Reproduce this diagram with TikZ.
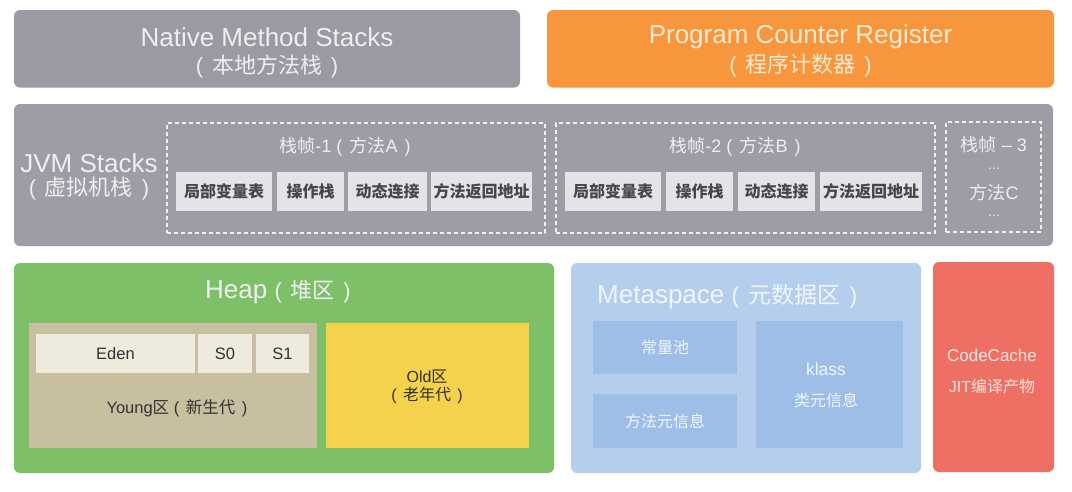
\documentclass[tikz,border=0pt]{standalone}
\usepackage{fontspec}
\setmainfont{Liberation Sans}
\newfontfamily\cjk{Noto Sans CJK SC}
\newcommand\zh[1]{{\cjk #1}}
\newcommand\LP{(\hspace{0.4em}}
\newcommand\RP{\hspace{0.4em})}
\definecolor{nativegray}{RGB}{155,154,162}
\definecolor{jvmgray}{RGB}{158,157,165}
\definecolor{pcorange}{RGB}{247,150,60}
\definecolor{cellgray}{RGB}{228,228,231}
\definecolor{celltext}{RGB}{70,70,75}
\definecolor{lighttext}{RGB}{238,238,242}
\definecolor{pctext}{RGB}{253,234,210}
\definecolor{dashwhite}{RGB}{240,240,244}
\definecolor{heapgreen}{RGB}{126,192,104}
\definecolor{youngtan}{RGB}{200,190,160}
\definecolor{edencell}{RGB}{238,234,222}
\definecolor{oldyellow}{RGB}{245,210,75}
\definecolor{metablue}{RGB}{182,206,238}
\definecolor{metainner}{RGB}{158,190,232}
\definecolor{metatext}{RGB}{240,245,252}
\definecolor{codered}{RGB}{238,112,100}
\definecolor{codetext}{RGB}{252,228,224}
\definecolor{darktext}{RGB}{50,50,50}
\tikzset{
  region/.style={rounded corners=6pt, inner sep=0pt, draw=none},
  plainbox/.style={inner sep=0pt, draw=none},
  cell/.style={plainbox, fill=cellgray, minimum height=39pt, text=celltext, font=\cjk\fontsize{16}{16}\selectfont\bfseries},
  framebox/.style={draw=dashwhite, line width=1.2pt, dash pattern=on 4pt off 3pt, inner sep=0pt},
  bigtitle/.style={inner sep=0pt, font=\fontsize{26}{26}\selectfont},
  bigsub/.style={inner sep=0pt, font=\fontsize{22}{22}\selectfont},
  label/.style={inner sep=0pt, font=\fontsize{18}{18}\selectfont},
  dots/.style={inner sep=0pt, text=lighttext, font=\fontsize{14}{14}\selectfont, text height=2pt, text depth=0pt},
}
\begin{document}
\begin{tikzpicture}[x=1pt,y=-1pt]
\useasboundingbox[fill=white] (0,0) rectangle (1072,491);
% Native method stacks
\node[region, fill=nativegray, minimum width=506pt, minimum height=77.5pt] (native) at (267,48.75) {};
\node[bigtitle, text=lighttext] (nativet) at (267,37) {Native Method Stacks};
\node[bigsub, text=lighttext] (natives) at (267,66) {\LP\zh{本地方法栈}\RP};
% Program counter
\node[region, fill=pcorange, minimum width=507pt, minimum height=77.5pt] (pc) at (800.5,48.75) {};
\node[bigtitle, text=pctext] (pct) at (800.5,37) {Program Counter Register};
\node[bigsub, text=pctext] (pcs) at (800.5,65) {\LP\zh{程序计数器}\RP};
% JVM stacks
\node[region, fill=jvmgray, minimum width=1039pt, minimum height=142pt] (jvm) at (533.5,175) {};
\node[bigtitle, text=lighttext] (jvmt) at (89,163) {JVM Stacks};
\node[bigsub, text=lighttext] (jvms) at (89,189) {\LP\zh{虚拟机栈}\RP};
% frame 1
\node[framebox, minimum width=378pt, minimum height=110pt] (f1) at (356,178) {};
\node[label, text=lighttext] (f1t) at (345,147) {\zh{栈帧}-1 \LP\zh{方法}A\RP};
\node[cell, minimum width=96pt] (f1a) at (224,191.5) {局部变量表};
\node[cell, minimum width=67pt] (f1b) at (310.5,191.5) {操作栈};
\node[cell, minimum width=79pt] (f1c) at (387.5,191.5) {动态连接};
\node[cell, minimum width=101pt] (f1d) at (481.5,191.5) {方法返回地址};
% frame 2
\node[framebox, minimum width=379pt, minimum height=110pt] (f2) at (745.5,178) {};
\node[label, text=lighttext] (f2t) at (735,147) {\zh{栈帧}-2 \LP\zh{方法}B\RP};
\node[cell, minimum width=96pt] (f2a) at (613,191.5) {局部变量表};
\node[cell, minimum width=67pt] (f2b) at (699.5,191.5) {操作栈};
\node[cell, minimum width=77pt] (f2c) at (776.5,191.5) {动态连接};
\node[cell, minimum width=102pt] (f2d) at (871,191.5) {方法返回地址};
% frame 3
\node[framebox, minimum width=95pt, minimum height=110pt] (f3) at (993.5,177) {};
\node[label, text=lighttext] (f3t) at (994,145) {\zh{栈帧} -- 3};
\node[dots] (f3d1) at (994,168) {...};
\node[label, text=lighttext] (f3m) at (994,193) {\zh{方法}C};
\node[dots] (f3d2) at (994,215) {...};
% Heap
\node[region, fill=heapgreen, minimum width=540pt, minimum height=210pt] (heap) at (284,368) {};
\node[bigtitle, text=lighttext] (heapt) at (278,292) {Heap {\fontsize{22}{22}\selectfont\LP\zh{堆区}\RP}};
\node[plainbox, fill=youngtan, minimum width=288pt, minimum height=125pt] (young) at (173,385.5) {};
\node[plainbox, fill=edencell, minimum width=159pt, minimum height=39pt, text=darktext, font=\fontsize{16.5}{16.5}\selectfont] (eden) at (115.5,353.5) {Eden};
\node[plainbox, fill=edencell, minimum width=54pt, minimum height=39pt, text=darktext, font=\fontsize{16.5}{16.5}\selectfont] (s0) at (225,353.5) {S0};
\node[plainbox, fill=edencell, minimum width=53pt, minimum height=39pt, text=darktext, font=\fontsize{16.5}{16.5}\selectfont] (s1) at (282.5,353.5) {S1};
\node[inner sep=0pt, text=darktext, font=\fontsize{16.5}{16.5}\selectfont] (youngt) at (177,408) {Young\zh{区} \LP\zh{新生代}\RP};
\node[plainbox, fill=oldyellow, minimum width=203pt, minimum height=125pt] (old) at (427.5,385.5) {};
\node[inner sep=0pt, text=darktext, font=\fontsize{16}{16}\selectfont] (oldt) at (427,377) {Old\zh{区}};
\node[inner sep=0pt, text=darktext, font=\fontsize{16}{16}\selectfont] (olds) at (427,395) {\LP\zh{老年代}\RP};
% Metaspace
\node[region, fill=metablue, minimum width=350pt, minimum height=210pt] (meta) at (746,368) {};
\node[bigtitle, text=metatext, anchor=west] (metat) at (597,297) {Metaspace {\fontsize{23}{23}\selectfont\LP\zh{元数据区}\RP}};
\node[plainbox, fill=metainner, minimum width=144pt, minimum height=53pt, text=metatext, font=\cjk\fontsize{16}{16}\selectfont] (pool) at (665,347.5) {常量池};
\node[plainbox, fill=metainner, minimum width=144pt, minimum height=54pt, text=metatext, font=\cjk\fontsize{16}{16}\selectfont] (minfo) at (665,421) {方法元信息};
\node[plainbox, fill=metainner, minimum width=147pt, minimum height=127pt] (klass) at (829.5,384.5) {};
\node[inner sep=0pt, text=metatext, font=\fontsize{17.5}{17.5}\selectfont] (klasst) at (826,369) {klass};
\node[inner sep=0pt, text=metatext, font=\cjk\fontsize{16}{16}\selectfont] (klasss) at (826,400) {类元信息};
% Code cache
\node[region, fill=codered, minimum width=121pt, minimum height=210pt] (code) at (993.5,367) {};
\node[inner sep=0pt, text=codetext, font=\fontsize{17}{17}\selectfont] (codet) at (992,355) {CodeCache};
\node[inner sep=0pt, text=codetext, font=\fontsize{16}{16}\selectfont] (codes) at (992,386) {JIT\zh{编译产物}};
\end{tikzpicture}
\end{document}
